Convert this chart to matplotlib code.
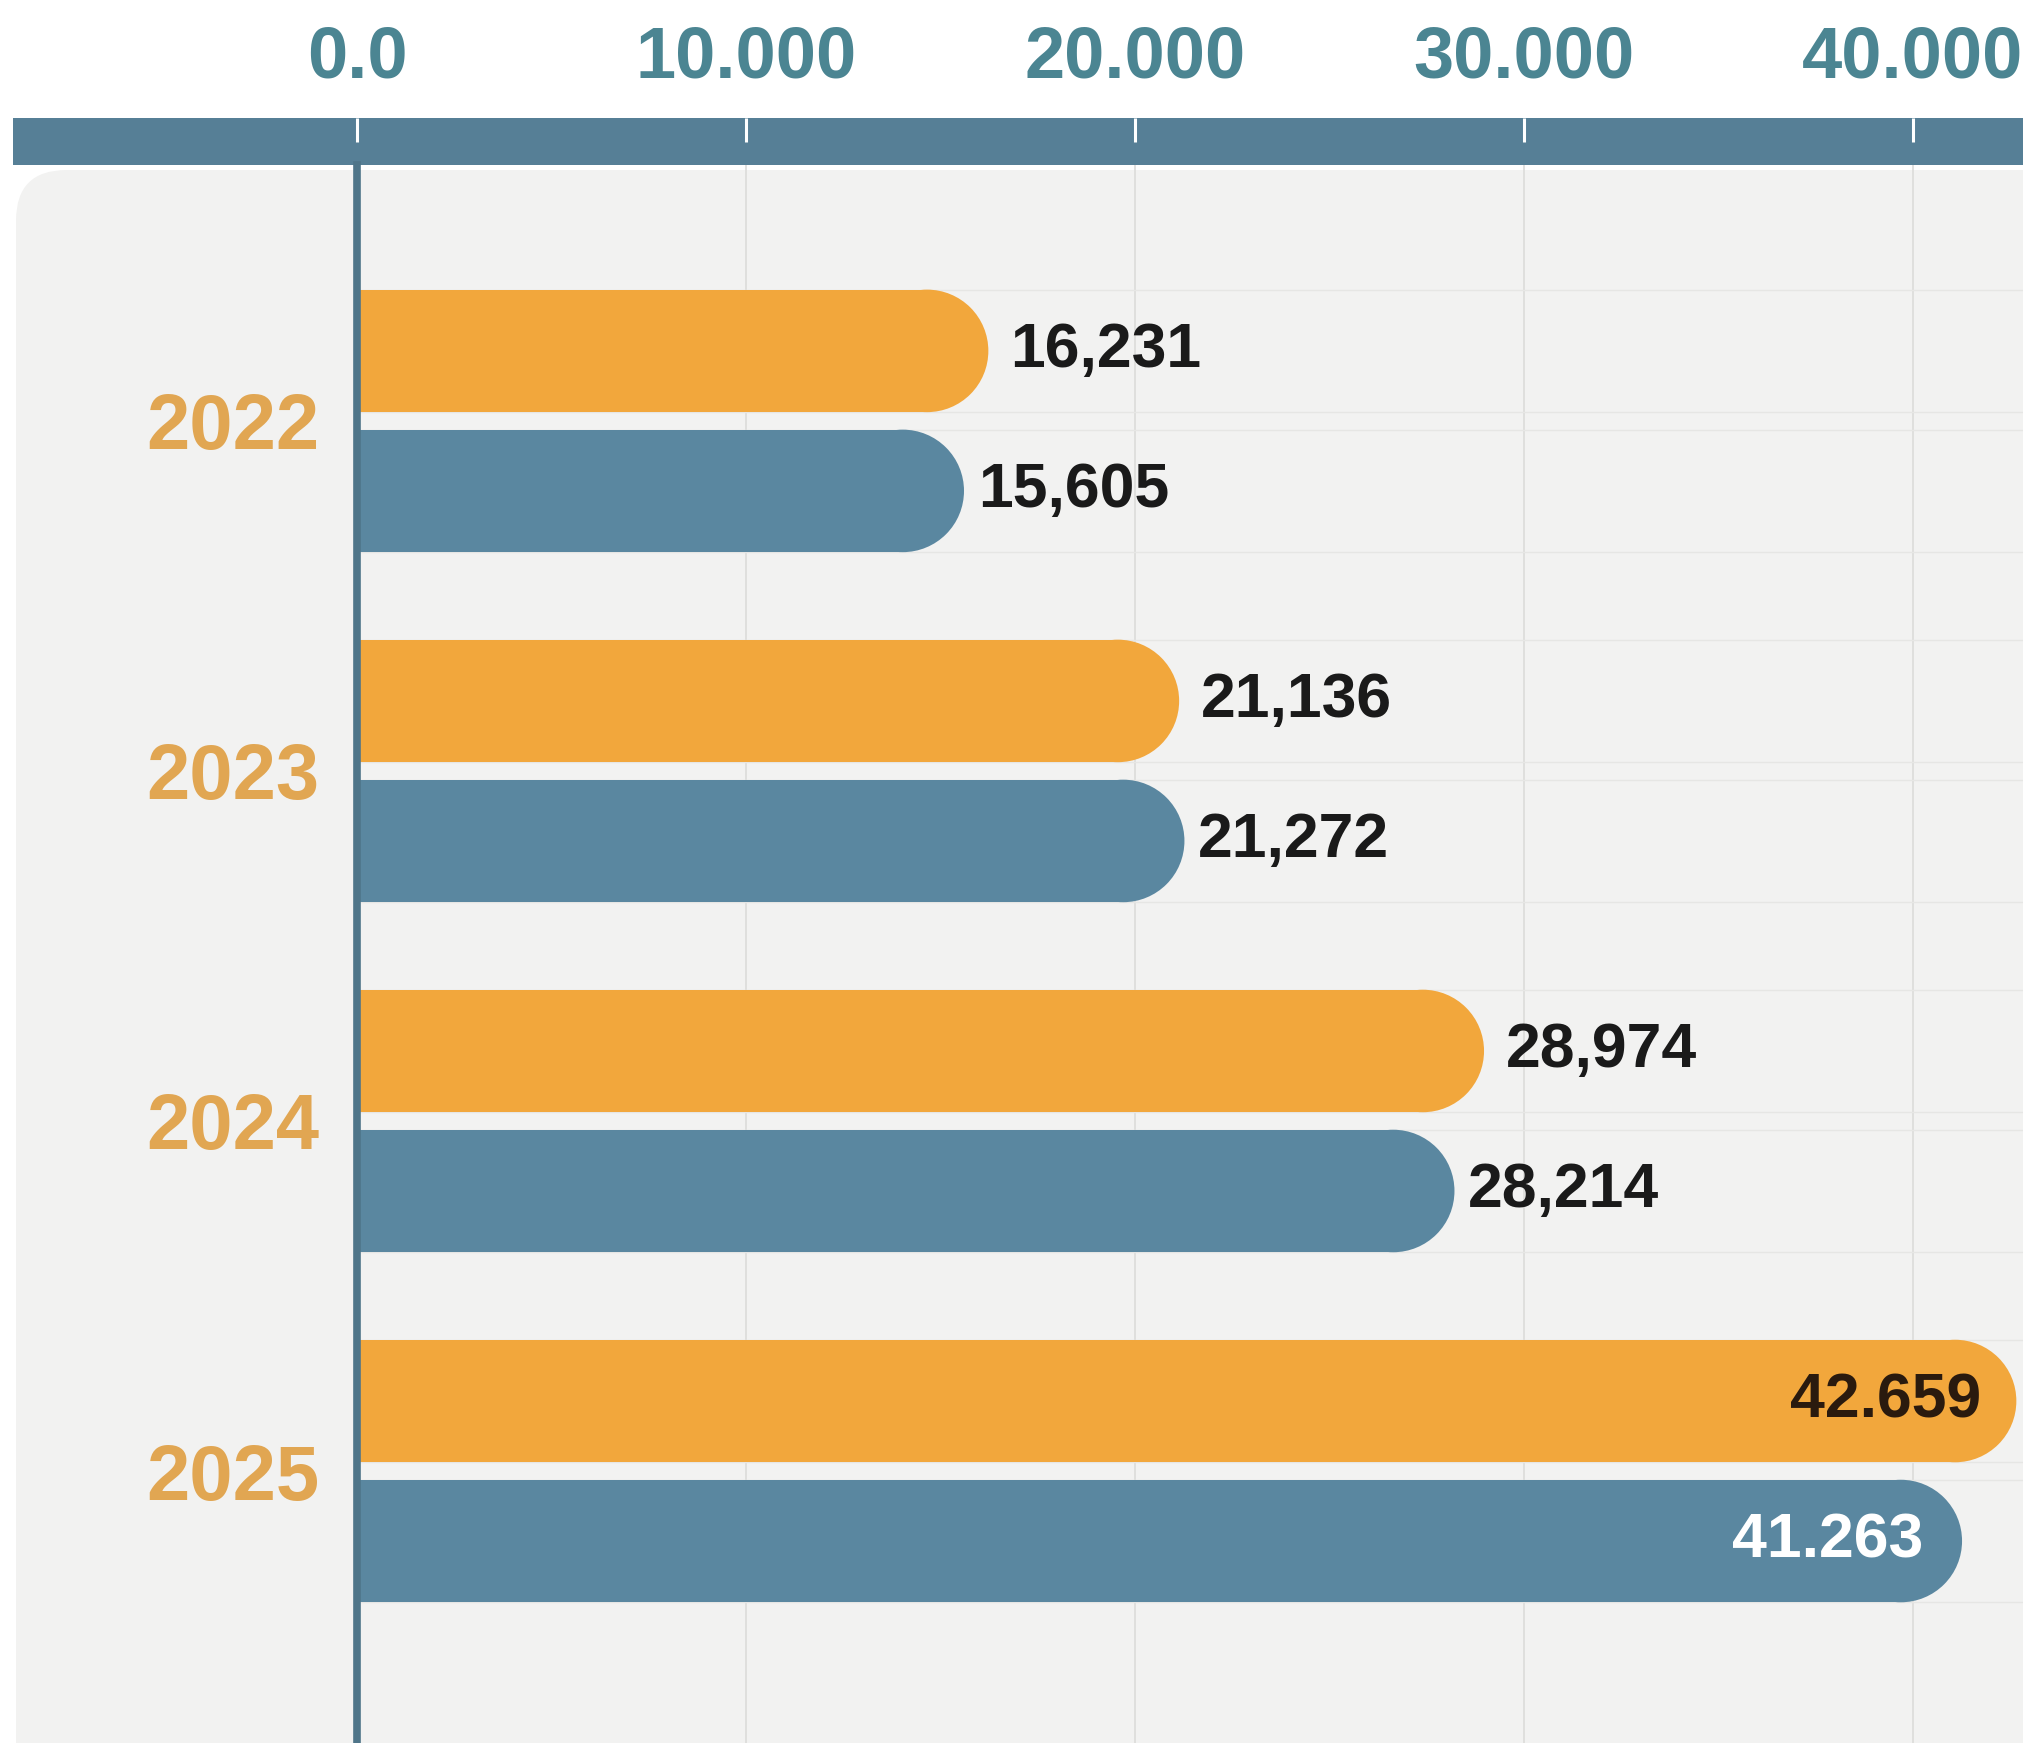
import numpy as np
import matplotlib.pyplot as plt
from matplotlib.patches import FancyBboxPatch, Rectangle, Ellipse

# data
years = ['2022', '2023', '2024', '2025']
orange_vals = [16231, 21136, 28974, 42659]
blue_vals = [15605, 21272, 28214, 41263]
orange_labels = ['16,231', '21,136', '28,974', '42.659']
blue_labels = ['15,605', '21,272', '28,214', '41.263']
ticks = [0, 10000, 20000, 30000, 40000]
tick_labels = ['0.0', '10.000', '20.000', '30.000', '40.000']

ORANGE = '#F2A73C'
BLUE = '#5A87A0'
HEAD = '#567F96'
TEAL_TXT = '#4B8592'
YEAR_TXT = '#E1A652'

W, H = 2023, 1743
fig = plt.figure(figsize=(W / 100, H / 100), dpi=100)
fig.patch.set_facecolor('white')

narrow = ['Liberation Sans Narrow', 'Liberation Sans', 'DejaVu Sans']
wide = ['Liberation Sans', 'DejaVu Sans']

# light rounded panel behind the plot
panel = FancyBboxPatch((16 / W, -60 / H), 1.2, (H - 165 + 55) / H,
                       boxstyle='round,pad=0,rounding_size=0.025',
                       mutation_aspect=W / H,
                       transform=fig.transFigure, facecolor='#F2F2F1',
                       edgecolor='none', zorder=-2)
fig.patches.append(panel)

# header strip (below the axes in draw order so the white ticks show)
head = Rectangle((13 / W, 1 - 165 / H), 1.0, 47 / H, transform=fig.transFigure,
                 facecolor=HEAD, edgecolor='none', zorder=-1)
fig.patches.append(head)

ax_top = 1 - 165 / H
ax = fig.add_axes([357 / W, 0, 1 - 357 / W, ax_top])
ax.set_facecolor('none')
ax.set_xlim(0, 42830)
ax.set_ylim(3.777, -0.731)

for s in ['top', 'right', 'bottom']:
    ax.spines[s].set_visible(False)
ax.spines['left'].set_color('#4F7589')
ax.spines['left'].set_linewidth(5.5)
ax.spines['left'].set_zorder(5)

ax.xaxis.tick_top()
ax.set_xticks(ticks, labels=tick_labels)
ax.tick_params(axis='x', length=0, pad=52, colors=TEAL_TXT, labelsize=52)
for t in ax.get_xticklabels():
    t.set_fontfamily(wide)
    t.set_fontweight('bold')

ypos = np.arange(len(years))
ax.set_yticks(ypos, labels=years)
ax.tick_params(axis='y', length=0, pad=27, colors=YEAR_TXT, labelsize=56)
for t in ax.get_yticklabels():
    t.set_fontfamily(narrow)
    t.set_fontweight('bold')

# grid
for x in ticks[1:]:
    ax.axvline(x, color='#DCDCDA', lw=1.2, zorder=0)

bar_h = 0.35
off = 0.2

# faint horizontal lines at bar edges
for g in ypos:
    for c in (g - off, g + off):
        for e in (c - bar_h / 2, c + bar_h / 2):
            ax.axhline(e, color='#E6E6E4', lw=1.0, zorder=0)

# white tick marks inside the header strip
ax.vlines(ticks, 1 + (165 - 142) / (H - 165), 1 + (165 - 118) / (H - 165),
          transform=ax.get_xaxis_transform(), colors='white', lw=2.2,
          clip_on=False, zorder=6)

# pixel scale for rounded bar ends
p0 = ax.transData.transform((0, 0))
p1 = ax.transData.transform((10000, 1))
px_x = abs(p1[0] - p0[0]) / 10000
px_y = abs(p1[1] - p0[1])
r_x = (bar_h / 2 * px_y) / px_x


def rbar(v, yc, color):
    ax.add_patch(Rectangle((-r_x, yc - bar_h / 2), v, bar_h,
                           facecolor=color, edgecolor='none', zorder=3))
    ax.add_patch(Ellipse((v - r_x, yc), 2 * r_x, bar_h,
                         facecolor=color, edgecolor='none', zorder=3))


inside = [False, False, False, True]
for i, g in enumerate(ypos):
    rbar(orange_vals[i], g - off, ORANGE)
    rbar(blue_vals[i], g + off, BLUE)
    if inside[i]:
        ax.annotate(orange_labels[i], (orange_vals[i], g - off), xytext=(-25, 0),
                    textcoords='offset points', ha='right', va='center',
                    fontsize=45, fontweight='bold', family=narrow,
                    color='#2A1A0E', zorder=6)
        ax.annotate(blue_labels[i], (blue_vals[i], g + off), xytext=(-28, 0),
                    textcoords='offset points', ha='right', va='center',
                    fontsize=45, fontweight='bold', family=narrow,
                    color='white', zorder=6)
    else:
        ax.annotate(orange_labels[i], (orange_vals[i], g - off), xytext=(16, 0),
                    textcoords='offset points', ha='left', va='center',
                    fontsize=45, fontweight='bold', family=narrow,
                    color='#1A1A1A', zorder=6)
        ax.annotate(blue_labels[i], (blue_vals[i], g + off), xytext=(10, 0),
                    textcoords='offset points', ha='left', va='center',
                    fontsize=45, fontweight='bold', family=narrow,
                    color='#1A1A1A', zorder=6)

plt.savefig('out.png', dpi=100)
